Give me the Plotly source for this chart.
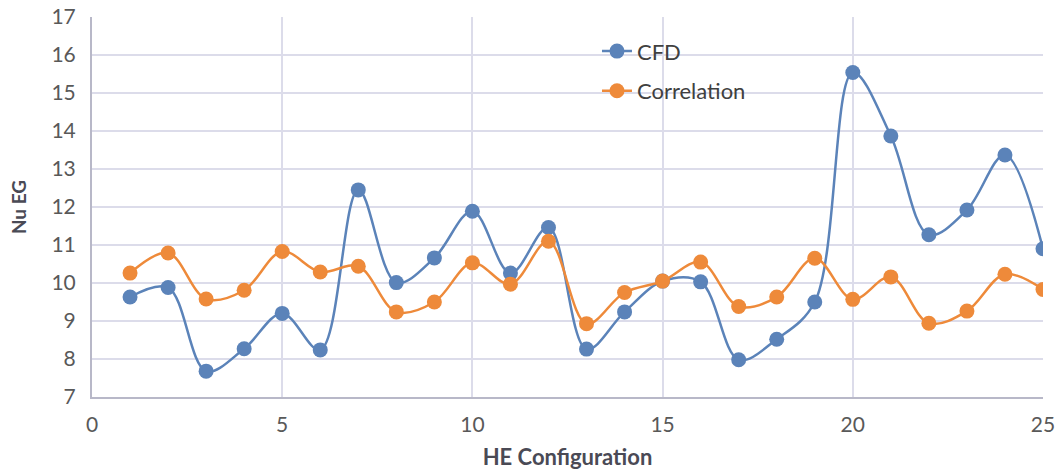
import plotly.graph_objects as go

config = list(range(1, 26))
cfd = [9.63, 9.88, 7.68, 8.27, 9.20, 8.24, 12.45, 10.01, 10.66, 11.89,
       10.26, 11.46, 8.26, 9.24, 10.05, 10.03, 7.98, 8.52, 9.50, 15.54,
       13.87, 11.27, 11.92, 13.37, 10.90]
correlation = [10.26, 10.79, 9.58, 9.81, 10.83, 10.29, 10.44, 9.24, 9.50, 10.53,
               9.97, 11.10, 8.93, 9.75, 10.05, 10.55, 9.38, 9.63, 10.65, 9.57,
               10.16, 8.94, 9.26, 10.23, 9.83]

blue = "#5B83B9"
orange = "#EE8A3A"
font = "Lato, 'Open Sans', sans-serif"

fig = go.Figure()
fig.add_trace(go.Scatter(x=config, y=cfd, name="CFD", mode="lines+markers",
                         line=dict(color=blue, width=2.5, shape="spline", smoothing=1),
                         marker=dict(color=blue, size=15), legendgroup="a"))
fig.add_trace(go.Scatter(x=config, y=correlation, name="Correlation", mode="lines+markers",
                         line=dict(color=orange, width=2.5, shape="spline", smoothing=1),
                         marker=dict(color=orange, size=15), legendgroup="b"))

# white box behind the legend, hiding the gridlines
fig.add_shape(type="rect", xref="paper", yref="paper", x0=0.495, x1=0.7266, y0=0.755, y1=0.9526,
              fillcolor="white", line=dict(width=0), layer="between")

fig.update_layout(
    width=1057, height=472,
    margin=dict(l=92, r=14, t=17, b=75, autoexpand=False),
    paper_bgcolor="white", plot_bgcolor="white",
    font=dict(family=font, color="#595959", size=21),
    legend=dict(x=0.531, y=0.965, xanchor="left", yanchor="top",
                bgcolor="rgba(0,0,0,0)", font=dict(size=22, color="#404040"),
                tracegroupgap=8, borderwidth=0),
    xaxis=dict(range=[0, 25], dtick=5, tick0=0, showgrid=True, gridcolor="#DCDCEA", gridwidth=2,
               showline=True, linecolor="#B8B8C8", linewidth=2, zeroline=False,
               ticks="", ticklabelstandoff=8, tickfont=dict(size=21, color="#595959"),
               automargin=False,
               title=dict(text="<b>HE Configuration</b>", font=dict(size=22, color="#4a4a55"), standoff=14)),
    yaxis=dict(range=[7, 17], dtick=1, showgrid=True, gridcolor="#DCDCEA", gridwidth=2,
               showline=True, linecolor="#B8B8C8", linewidth=2, zeroline=False,
               ticks="", ticklabelstandoff=10, tickfont=dict(size=21, color="#595959"),
               automargin=False,
               title=dict(text="<b>Nu EG</b>", font=dict(size=19, color="#4a4a55"), standoff=20)),
)

fig.write_html("out.html", config={"displayModeBar": False},
               post_script="document.body.style.margin='0';")
